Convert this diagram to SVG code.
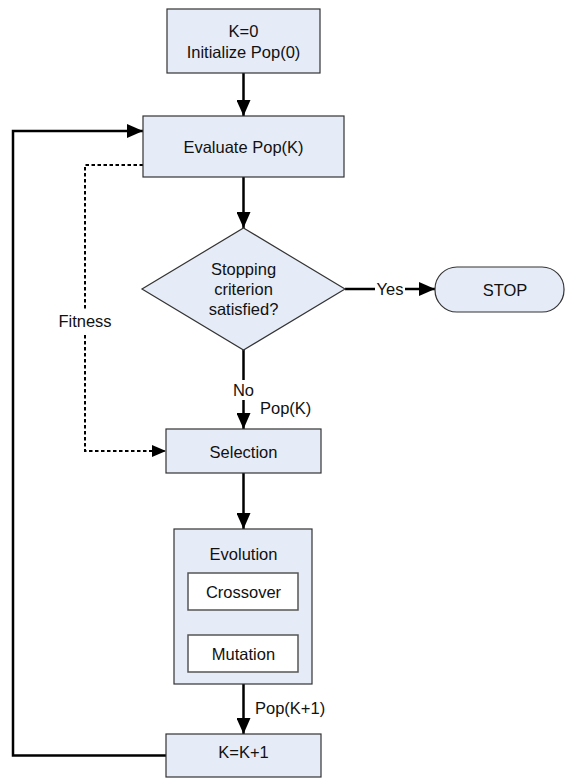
<svg xmlns="http://www.w3.org/2000/svg" width="566" height="778" viewBox="0 0 566 778">
<style>
.box{fill:#E6ECF7;stroke:#333;stroke-width:1.2}
.inner{fill:#fff;stroke:#555;stroke-width:1.5}
text{font-family:"Liberation Sans",Arial,sans-serif;font-size:16.5px;fill:#111;text-anchor:middle;dominant-baseline:central}
.lbl{text-anchor:start}
.c{fill:none;stroke:#000;stroke-width:2.5}
.d{fill:none;stroke:#000;stroke-width:2;stroke-dasharray:3.5 2.5}
</style>
<defs>
<marker id="ah" viewBox="0 0 16 14" refX="16" refY="7" markerWidth="16" markerHeight="14" markerUnits="userSpaceOnUse" orient="auto">
<path d="M0,0 L16,7 L0,14 z" fill="#000"/>
</marker>
<marker id="ahs" viewBox="0 0 14 12" refX="14" refY="6" markerWidth="14" markerHeight="12" markerUnits="userSpaceOnUse" orient="auto">
<path d="M0,0 L14,6 L0,12 z" fill="#000"/>
</marker>
</defs>
<g id="connectors">
<line class="c" x1="243.5" y1="73" x2="243.5" y2="116" marker-end="url(#ah)"/>
<line class="c" x1="243.5" y1="177" x2="243.5" y2="228" marker-end="url(#ah)"/>
<line class="c" x1="345" y1="289" x2="375" y2="289"/>
<text x="390" y="289">Yes</text>
<line class="c" x1="405" y1="289" x2="435" y2="289" marker-end="url(#ah)"/>
<line class="c" x1="243.5" y1="350" x2="243.5" y2="380"/>
<text x="243.5" y="390">No</text>
<line class="c" x1="243.5" y1="400" x2="243.5" y2="429" marker-end="url(#ah)"/>
<text class="lbl" x="260" y="408">Pop(K)</text>
<line class="c" x1="243.5" y1="473" x2="243.5" y2="529" marker-end="url(#ah)"/>
<line class="c" x1="243.5" y1="684" x2="243.5" y2="734" marker-end="url(#ah)"/>
<text class="lbl" x="255" y="708">Pop(K+1)</text>
<polyline class="c" points="166,755.5 13,755.5 13,131 143,131" marker-end="url(#ah)"/>
<polyline class="d" points="143,165 85,165 85,451 166,451" marker-end="url(#ahs)"/>
<rect x="55" y="309" width="60" height="24" fill="#fff"/>
<text x="85" y="321">Fitness</text>
</g>
<g id="init">
<rect class="box" x="167" y="9" width="153" height="64"/>
<text x="243.5" y="31">K=0</text>
<text x="243.5" y="52">Initialize Pop(0)</text>
</g>
<g id="evaluate">
<rect class="box" x="143" y="116" width="201" height="61"/>
<text x="243.5" y="146.5">Evaluate Pop(K)</text>
</g>
<g id="decision">
<polygon class="box" points="243.5,228 345,289 243.5,350 142,289"/>
<text x="243.5" y="269">Stopping</text>
<text x="243.5" y="289">criterion</text>
<text x="243.5" y="309">satisfied?</text>
</g>
<g id="stop">
<rect class="box" x="435" y="267" width="129" height="45" rx="22" ry="22"/>
<text x="505" y="289.5">STOP</text>
</g>
<g id="selection">
<rect class="box" x="166" y="429" width="155" height="44"/>
<text x="243.5" y="451.5">Selection</text>
</g>
<g id="evolution">
<rect class="box" x="174" y="529" width="138" height="155"/>
<text x="243.5" y="554">Evolution</text>
<g id="crossover">
<rect class="inner" x="188" y="573" width="110" height="37"/>
<text x="243.5" y="591.5">Crossover</text>
</g>
<g id="mutation">
<rect class="inner" x="188" y="635" width="110" height="37"/>
<text x="243.5" y="653.5">Mutation</text>
</g>
</g>
<g id="increment">
<rect class="box" x="166" y="734" width="155" height="43"/>
<text x="243.5" y="752">K=K+1</text>
</g>
</svg>
